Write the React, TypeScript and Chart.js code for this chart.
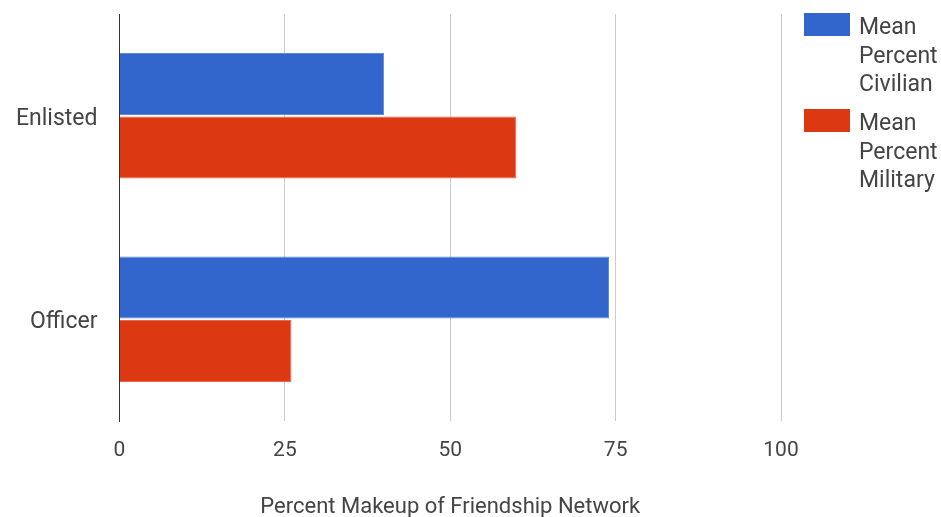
import React, { useEffect, useRef } from "react";
import { Chart, registerables } from "chart.js";

Chart.register(...registerables);

const categories = ["Enlisted", "Officer"];
const civilianValues = [40, 74];
const militaryValues = [60, 26];
const seriesNames = [["Mean", "Percent", "Civilian"], ["Mean", "Percent", "Military"]];
const seriesColors = ["#3366cc", "#dc3912"];
const xTicks = [0, 25, 50, 75, 100];
const xTitle = "Percent Makeup of Friendship Network";

const FONT = "Roboto, Arial, sans-serif";
const TEXT = "#444444";

const legendPlugin = {
  id: "wrapLegend",
  afterDraw(chart: any) {
    const ctx = chart.ctx;
    ctx.save();
    const boxX = 804;
    const boxW = 46;
    const boxH = 23;
    const itemGap = 96;
    const lineH = 28.5;
    seriesNames.forEach((lines, i) => {
      const top = 13 + i * itemGap;
      ctx.fillStyle = seriesColors[i];
      ctx.fillRect(boxX, top, boxW, boxH);
      ctx.fillStyle = TEXT;
      ctx.font = `23px ${FONT}`;
      ctx.textBaseline = "alphabetic";
      ctx.textAlign = "left";
      lines.forEach((t, j) => {
        ctx.fillText(t, 859, top + 21 + j * lineH);
      });
    });
    ctx.restore();
  },
};

export default function App() {
  const ref = useRef<HTMLCanvasElement>(null);
  useEffect(() => {
    if (!ref.current) return;
    const chart = new Chart(ref.current, {
      type: "bar",
      data: {
        labels: categories,
        datasets: [
          {
            label: seriesNames[0].join(" "),
            data: civilianValues,
            backgroundColor: seriesColors[0],
            borderColor: "#5f88d8",
            borderWidth: 1,
            categoryPercentage: 0.625,
            barPercentage: 0.975,
          },
          {
            label: seriesNames[1].join(" "),
            data: militaryValues,
            backgroundColor: seriesColors[1],
            borderColor: "#e66a4d",
            borderWidth: 1,
            categoryPercentage: 0.625,
            barPercentage: 0.975,
          },
        ],
      },
      options: {
        indexAxis: "y",
        responsive: false,
        animation: false,
        layout: { padding: { top: 14, right: 160, left: 0, bottom: 0 } },
        plugins: {
          legend: { display: false },
          tooltip: { enabled: false },
        },
        scales: {
          x: {
            type: "linear",
            min: 0,
            max: 100,
            afterFit: (s: any) => {
              s.height = 96;
              s.paddingTop = 0;
              s.paddingBottom = 0;
            },
            afterBuildTicks: (s: any) => {
              s.ticks = xTicks.map((v) => ({ value: v }));
            },
            grid: {
              drawTicks: false,
              color: (c: any) => (c.tick && c.tick.value === 0 ? "rgba(0,0,0,0)" : "#cccccc"),
              lineWidth: 1,
            },
            border: { display: false },
            ticks: {
              padding: 17,
              color: TEXT,
              font: { family: FONT, size: 21 },
            },
            title: {
              display: true,
              text: xTitle,
              color: TEXT,
              font: { family: FONT, size: 22, lineHeight: 0.86 },
              padding: { top: 0, bottom: 0 },
            },
          },
          y: {
            type: "category",
            afterFit: (s: any) => {
              s.width = 119.5;
              s.paddingTop = 0;
              s.paddingBottom = 0;
            },
            grid: { display: false, drawTicks: false },
            border: { display: true, color: "#333333", width: 1 },
            ticks: {
              padding: 22,
              labelOffset: 3,
              color: TEXT,
              font: { family: FONT, size: 23 },
            },
          },
        },
      },
      plugins: [legendPlugin],
    } as any);
    return () => chart.destroy();
  }, []);
  return (
    <div style={{ position: "fixed", left: 0, top: 0, width: 941, height: 517, background: "#fff" }}>
      <canvas ref={ref} width={941} height={517} style={{ display: "block" }} />
    </div>
  );
}
